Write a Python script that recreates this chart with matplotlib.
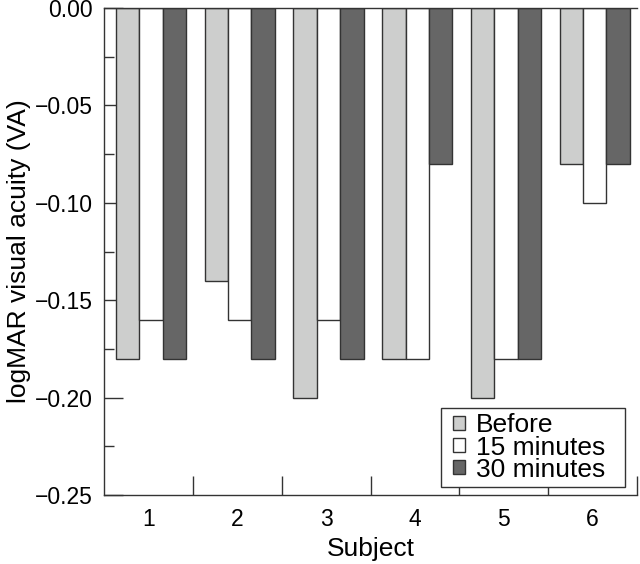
import matplotlib
matplotlib.use('Agg')
import matplotlib.pyplot as plt
from matplotlib.patches import Rectangle
from matplotlib.ticker import MultipleLocator, FixedLocator, FuncFormatter
import numpy as np

plt.rcParams['font.family'] = ['Liberation Sans', 'DejaVu Sans']

# Data
subjects = ['1', '2', '3', '4', '5', '6']
before = [-0.18, -0.14, -0.20, -0.18, -0.20, -0.08]
after_15 = [-0.16, -0.16, -0.16, -0.18, -0.18, -0.10]
after_30 = [-0.18, -0.18, -0.18, -0.08, -0.18, -0.08]
series_names = ['Before', '15 minutes', '30 minutes']

COLORS = ['#cdcecd', '#ffffff', '#666666']
EDGE = '#333333'

fig = plt.figure(figsize=(6.4, 5.64), dpi=100, facecolor='white')
ax = fig.add_axes([0.163, 0.1223, 0.832, 0.8635])

x = np.arange(len(subjects))
width = 0.263
offset = 0.026
for k, (vals, name) in enumerate(zip([before, after_15, after_30], series_names)):
    ax.bar(x + offset + (k - 1) * width, vals, width, color=COLORS[k],
           edgecolor=EDGE, linewidth=1.0, label=name, zorder=2)

ax.set_xlim(-0.5, len(subjects) - 0.5)
ax.set_ylim(-0.25, 0.0)


def fmt(v, pos):
    if abs(v) < 1e-9:
        return '0.00'
    return ('%.2f' % v).replace('-', '\u2212')


# y ticks
ax.yaxis.set_major_locator(MultipleLocator(0.05))
ax.yaxis.set_minor_locator(MultipleLocator(0.025))
ax.yaxis.set_major_formatter(FuncFormatter(fmt))
ax.tick_params(axis='y', which='major', direction='in', length=13.7, width=1.0,
               color=EDGE, labelsize=16.5, pad=8)
ax.tick_params(axis='y', which='minor', direction='in', length=7.2, width=1.0,
               color=EDGE)

# x: labels at group centres, tick marks at group boundaries
ax.set_xticks(x)
ax.set_xticklabels(subjects)
ax.xaxis.set_minor_locator(FixedLocator(np.arange(0.5, len(subjects), 1.0)))
ax.tick_params(axis='x', which='major', length=0, labelsize=16.5, pad=9)
ax.tick_params(axis='x', which='minor', direction='in', length=13.7, width=1.0,
               color=EDGE)

for side in ['left', 'bottom', 'top']:
    ax.spines[side].set_color(EDGE)
    ax.spines[side].set_linewidth(1.0)
ax.spines['right'].set_visible(False)

ax.set_xlabel('Subject', fontsize=19, labelpad=5)
ax.set_ylabel('logMAR visual acuity (VA)', fontsize=19, labelpad=3)

# legend: plain box drawn separately so its padding matches the original
ax.add_patch(Rectangle((0.632, 0.0164), 0.346, 0.162, transform=ax.transAxes,
                       facecolor='white', edgecolor=EDGE, linewidth=1.0,
                       zorder=4))
leg = ax.legend(loc='center', bbox_to_anchor=(0.7985, 0.0975),
                borderaxespad=0, fontsize=19, frameon=False,
                handlelength=0.45, handleheight=0.45,
                labelspacing=-0.07, handletextpad=0.42, borderpad=0)
leg.set_zorder(5)

fig.savefig('out.png', dpi=100, facecolor='white')
